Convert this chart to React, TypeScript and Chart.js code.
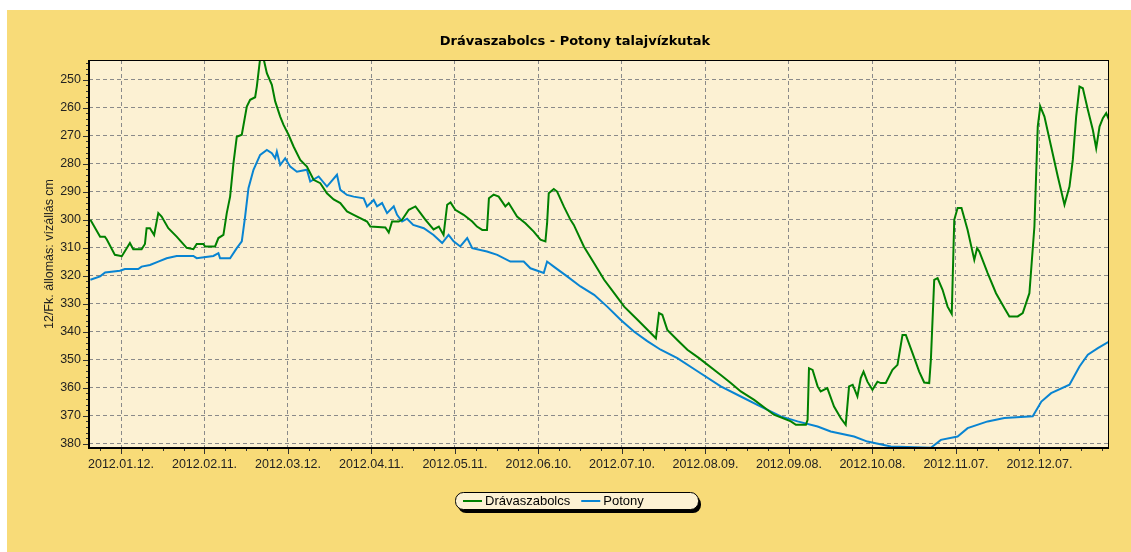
import { useEffect, useRef } from "react";
import { Chart, registerables } from "chart.js";

Chart.register(...registerables);

const chartTitle = "Drávaszabolcs - Potony talajvízkutak";
const yAxisTitle = "12/Fk. állomás: vízállás cm";

// x values are day-of-year indices (2012.01.01 = 0)
const xTickDays = [11, 41, 71, 101, 131, 161, 191, 221, 251, 281, 311, 341];
const xTickLabels = [
  "2012.01.12.", "2012.02.11.", "2012.03.12.", "2012.04.11.", "2012.05.11.", "2012.06.10.",
  "2012.07.10.", "2012.08.09.", "2012.09.08.", "2012.10.08.", "2012.11.07.", "2012.12.07.",
];
const yTickValues = [250, 260, 270, 280, 290, 300, 310, 320, 330, 340, 350, 360, 370, 380];

const seriesNames = ["Drávaszabolcs", "Potony"];

const dravaDays = [
  0, 3.5, 5.2, 5.9, 8.8, 11.3, 14.2, 15.4, 18.4, 19.6, 20.2, 21.4, 22.9, 24.4, 25.6, 28, 31, 34.6, 37, 38.2,
  40.6, 41.2, 44.8, 46, 47.8, 49, 50.2, 51.4, 52.6, 54.4, 56.2, 57.4, 59.2, 59.8, 61, 62.2, 63.4, 65.2, 66.4, 68.2,
  69.4, 71.2, 73, 75.4, 77.8, 80.2, 82.6, 85, 87.4, 89.8, 92.2, 94.6, 99.4, 100.6, 106, 107.2, 108.4, 110.8, 112, 114.4,
  115.6, 116.8, 118.6, 120.4, 123.3, 125.2, 126.9, 128.2, 129.4, 131.1, 134.1, 137.2, 138.9, 140.8, 142.5, 143.2, 144.9, 146.7, 149.1, 150.3,
  153.3, 156.3, 159.3, 161.7, 163.5, 164.1, 164.7, 166.5, 167.7, 170.1, 172.5, 173.7, 177.3, 181, 184.6, 188.2, 191.8, 195.4, 199, 203.2,
  204.3, 205.5, 207.3, 210.9, 214.5, 218.7, 226.5, 230.1, 233.7, 238.5, 245.6, 251.7, 253.5, 257.1, 257.7, 258.2, 259.5, 261.3, 262.4, 264.8,
  267.2, 269.6, 271.4, 272.6, 273.9, 275.6, 276.8, 277.8, 279.2, 281, 282.8, 284, 285.8, 288.2, 290, 291.8, 293, 295.4, 297.8, 299.6,
  301.4, 302, 303.2, 304.4, 306.2, 308, 309.5, 310.4, 311.6, 313, 315.2, 317.6, 318.6, 319.4, 322.4, 325.4, 328.4, 330.2, 333.2, 335,
  337.4, 339.2, 340.4, 341.3, 342.8, 345.2, 347.6, 350, 351.8, 353, 354.2, 355.4, 356.6, 358.4, 360.2, 361.4, 362.6, 363.8, 365, 366,
];
const dravaLevels = [
  300, 306, 306, 307, 312.5, 313, 308.3, 310.5, 310.5, 308.6, 303, 303, 305.4, 297.6, 298.8, 303, 306, 310, 310.5, 308.6,
  308.6, 309.5, 309.5, 306.5, 305.4, 297.6, 291.7, 279.8, 270.3, 269.6, 259.5, 257.1, 256.2, 252.4, 242.3, 242.3, 247.6, 251.8, 257.7, 263.1,
  266.1, 269.6, 273.8, 278.6, 281, 285.7, 286.9, 290.5, 292.7, 294, 297, 298.2, 300.6, 302.4, 302.7, 304.5, 300.6, 300.6, 300, 296.4,
  295.8, 295.2, 297.6, 300, 303.4, 302.4, 305.4, 294.6, 293.8, 296.4, 298.2, 300.6, 302.4, 303.6, 303.6, 292.3, 291, 291.7, 295.2, 294,
  298.8, 301.2, 304.2, 307.1, 307.7, 301.2, 290.5, 289, 289.9, 295.2, 300, 301.8, 309.5, 315.5, 321.4, 326.2, 331, 334.5, 338.1, 342.3,
  333.3, 333.9, 339.3, 342.9, 346.4, 349.4, 355.4, 358.3, 361.3, 364.3, 369.6, 372, 373.2, 373.2, 371.4, 353, 353.6, 359.5, 361.3, 360.1,
  366.7, 370.8, 373.2, 359.5, 358.9, 363.1, 356.5, 354.2, 357.8, 360.7, 357.8, 358.3, 358.3, 353.6, 351.8, 341.1, 341.1, 347.6, 354.2, 358.1,
  358.3, 350, 321.4, 320.8, 325, 331, 333.6, 300, 295.8, 295.8, 303.6, 314.3, 310.1, 311.3, 319, 326.2, 331.5, 334.5, 334.5, 333.3,
  326.2, 302.4, 266.7, 259.5, 263.1, 273.8, 284.5, 294.6, 288.1, 278.6, 263.1, 252.4, 253, 260.7, 267.9, 274.4, 266.7, 263.7, 261.9, 264.3,
];

const potonyDays = [
  0, 3.5, 5.3, 10.6, 12.4, 17.2, 18.4, 21.4, 24.4, 27.4, 31, 37, 38.2, 44.2, 46, 46.6, 50.2, 52.6, 54.4, 55.6,
  56.8, 58.6, 61, 63.4, 65.2, 66.4, 67, 68.2, 70, 71.8, 74.2, 77.8, 79, 82, 85, 88.6, 89.8, 92.2, 94.6, 98.2,
  99.4, 101.8, 103, 104.8, 106.6, 109, 110.2, 112, 113.8, 116, 119.8, 123.3, 126.4, 128.7, 130.5, 132.9, 135.4, 137.2, 142.5, 146.2,
  150.9, 155.7, 158.1, 162.9, 164.1, 166.5, 171.3, 176.1, 181, 185.7, 190.5, 195.3, 200.1, 204.9, 210.9, 218, 226.5, 233.7, 240.9, 248.1,
  254.1, 261.3, 266, 274.4, 279.2, 287.6, 302, 305.6, 311.6, 315.2, 322.4, 328.4, 338.6, 341.7, 345.2, 351.8, 355.4, 358.4, 362, 366,
];
const potonyLevels = [
  321.4, 320.2, 318.8, 318.2, 317.6, 317.6, 316.7, 316.1, 314.9, 313.7, 312.9, 312.9, 313.7, 312.9, 311.9, 313.7, 313.7, 310.1, 307.7, 298.8,
  288.7, 282.1, 276.8, 275, 276.2, 278, 275.6, 280.4, 278, 281, 282.8, 282.1, 286.3, 284.5, 288.1, 283.9, 289.3, 291.1, 291.7, 292.3,
  295.2, 292.9, 295.2, 294, 297.6, 295.2, 298.2, 300.6, 299.6, 301.8, 303, 305.4, 308.3, 305.4, 307.7, 309.5, 306.5, 310.1, 311.3, 312.5,
  314.9, 314.9, 317.3, 319, 314.9, 316.7, 320.2, 323.8, 326.8, 331, 335.7, 339.9, 343.3, 346.4, 349.4, 354, 359.5, 363.1, 366.7, 370.2,
  372, 373.8, 375.6, 377.4, 379.2, 381, 381.4, 378.6, 377.4, 374.4, 372, 370.8, 370.2, 364.9, 361.9, 358.9, 352.4, 348.2, 345.8, 343.5,
];

const seriesColors = ["#008000", "#0884d2"];

const FONT = '"Liberation Sans", Arial, sans-serif';
const TITLE_FONT = '"DejaVu Sans", Verdana, sans-serif';

function roundRectPath(ctx: CanvasRenderingContext2D, x: number, y: number, w: number, h: number, r: number) {
  ctx.beginPath();
  ctx.moveTo(x + r, y);
  ctx.lineTo(x + w - r, y);
  ctx.arcTo(x + w, y, x + w, y + r, r);
  ctx.lineTo(x + w, y + h - r);
  ctx.arcTo(x + w, y + h, x + w - r, y + h, r);
  ctx.lineTo(x + r, y + h);
  ctx.arcTo(x, y + h, x, y + h - r, r);
  ctx.lineTo(x, y + r);
  ctx.arcTo(x, y, x + r, y, r);
  ctx.closePath();
}

const decorPlugin = {
  id: "decor",
  beforeDraw(chart: any) {
    const { ctx, width, height, chartArea: a } = chart;
    ctx.save();
    ctx.fillStyle = "#ffffff";
    ctx.fillRect(0, 0, width, height);
    ctx.fillStyle = "#F8DB78";
    ctx.fillRect(7, 10, width - 7, height - 10);
    ctx.fillStyle = "#FCF1D3";
    ctx.fillRect(a.left, a.top, a.right - a.left, a.bottom - a.top);
    ctx.restore();
  },
  afterDraw(chart: any) {
    const { ctx, chartArea: a } = chart;
    const xs = chart.scales.x;
    const ys = chart.scales.y;
    ctx.save();

    // title
    ctx.fillStyle = "#000";
    ctx.font = `bold 13px ${TITLE_FONT}`;
    ctx.textAlign = "center";
    ctx.textBaseline = "middle";
    ctx.fillText(chartTitle, 575, 42);

    // frame
    ctx.strokeStyle = "#000";
    ctx.lineWidth = 1;
    ctx.strokeRect(a.left + 0.5, a.top + 0.5, a.right - a.left - 1, a.bottom - a.top - 1);
    ctx.lineWidth = 2;
    ctx.beginPath();
    ctx.moveTo(a.left, a.top);
    ctx.lineTo(a.left, a.bottom);
    ctx.lineTo(a.right, a.bottom);
    ctx.stroke();

    // tick marks
    ctx.lineWidth = 1;
    ctx.strokeStyle = "#333";
    ctx.beginPath();
    const first = xTickDays[0];
    for (let k = -2; k < 60; k++) {
      const d = first + k * 7.5;
      if (d < xs.min || d > xs.max) continue;
      const px = Math.round(xs.getPixelForValue(d)) + 0.5;
      const major = k % 4 === 0;
      ctx.moveTo(px, a.bottom + 1);
      ctx.lineTo(px, a.bottom + (major ? 6 : 3));
    }
    for (let v = 244; v <= 381; v += 2) {
      const py = Math.round(ys.getPixelForValue(v)) + 0.5;
      const major = v % 10 === 0;
      ctx.moveTo(a.left - 1, py);
      ctx.lineTo(a.left - (major ? 6 : 3), py);
    }
    ctx.stroke();

    // legend
    const lx = 455, ly = 492, lw = 243, lh = 17;
    ctx.fillStyle = "#000";
    roundRectPath(ctx, lx + 3, ly + 4, lw, lh, 8);
    ctx.fill();
    ctx.fillStyle = "#FCF1D3";
    roundRectPath(ctx, lx + 0.5, ly + 0.5, lw, lh, 8);
    ctx.fill();
    ctx.strokeStyle = "#000";
    ctx.lineWidth = 1;
    ctx.stroke();
    ctx.font = `13px ${FONT}`;
    ctx.textAlign = "left";
    ctx.textBaseline = "middle";
    let cx = lx + 8;
    const cy = ly + 9;
    chart.data.datasets.forEach((ds: any) => {
      ctx.strokeStyle = ds.borderColor;
      ctx.lineWidth = 2;
      ctx.beginPath();
      ctx.moveTo(cx, cy);
      ctx.lineTo(cx + 19, cy);
      ctx.stroke();
      cx += 22;
      ctx.fillStyle = "#000";
      ctx.fillText(ds.label, cx, cy);
      cx += ctx.measureText(ds.label).width + 11;
    });

    ctx.restore();
  },
};

export default function App() {
  const ref = useRef<HTMLCanvasElement | null>(null);
  useEffect(() => {
    if (!ref.current) return;
    const drava = dravaDays.map((d, i) => ({ x: d, y: dravaLevels[i] }));
    const potony = potonyDays.map((d, i) => ({ x: d, y: potonyLevels[i] }));
    const chart = new Chart(ref.current, {
      type: "line",
      data: {
        datasets: [
          { label: seriesNames[0], data: drava, borderColor: seriesColors[0], backgroundColor: seriesColors[0], borderWidth: 2, pointRadius: 0, tension: 0, fill: false },
          { label: seriesNames[1], data: potony, borderColor: seriesColors[1], backgroundColor: seriesColors[1], borderWidth: 2, pointRadius: 0, tension: 0, fill: false },
        ],
      },
      options: {
        animation: false,
        responsive: false,
        events: [],
        layout: { padding: { left: 0, top: 60, right: 22, bottom: 0 } },
        plugins: {
          legend: { display: false },
          title: { display: false },
          tooltip: { enabled: false },
        },
        scales: {
          x: {
            type: "linear",
            min: -0.5,
            max: 366,
            afterBuildTicks: (scale: any) => {
              scale.ticks = xTickDays.map((v) => ({ value: v }));
            },
            afterFit: (scale: any) => {
              scale.height = 104;
            },
            ticks: {
              autoSkip: false,
              maxRotation: 0,
              padding: 9,
              color: "#222",
              font: { family: FONT, size: 12.5 },
              callback: (_v: any, i: number) => xTickLabels[i],
            },
            grid: { color: "#8a8a8a", lineWidth: 1, drawTicks: false },
            border: { display: false, dash: [4, 3] },
          },
          y: {
            type: "linear",
            reverse: true,
            min: 242.9,
            max: 381.5,
            afterBuildTicks: (scale: any) => {
              scale.ticks = yTickValues.map((v) => ({ value: v }));
            },
            afterFit: (scale: any) => {
              scale.width = 89;
            },
            ticks: {
              padding: 8,
              color: "#222",
              font: { family: FONT, size: 12.5 },
            },
            grid: { color: "#8a8a8a", lineWidth: 1, drawTicks: false },
            border: { display: false, dash: [4, 3] },
            title: {
              display: true,
              text: yAxisTitle,
              color: "#222",
              font: { family: FONT, size: 12.5 },
              padding: { top: 42, bottom: 0 },
            },
          },
        },
      },
      plugins: [decorPlugin],
    });
    return () => chart.destroy();
  }, []);
  return (
    <div style={{ position: "absolute", left: 0, top: 0, width: 1131, height: 552 }}>
      <canvas ref={ref} width={1131} height={552} style={{ display: "block" }} />
    </div>
  );
}
